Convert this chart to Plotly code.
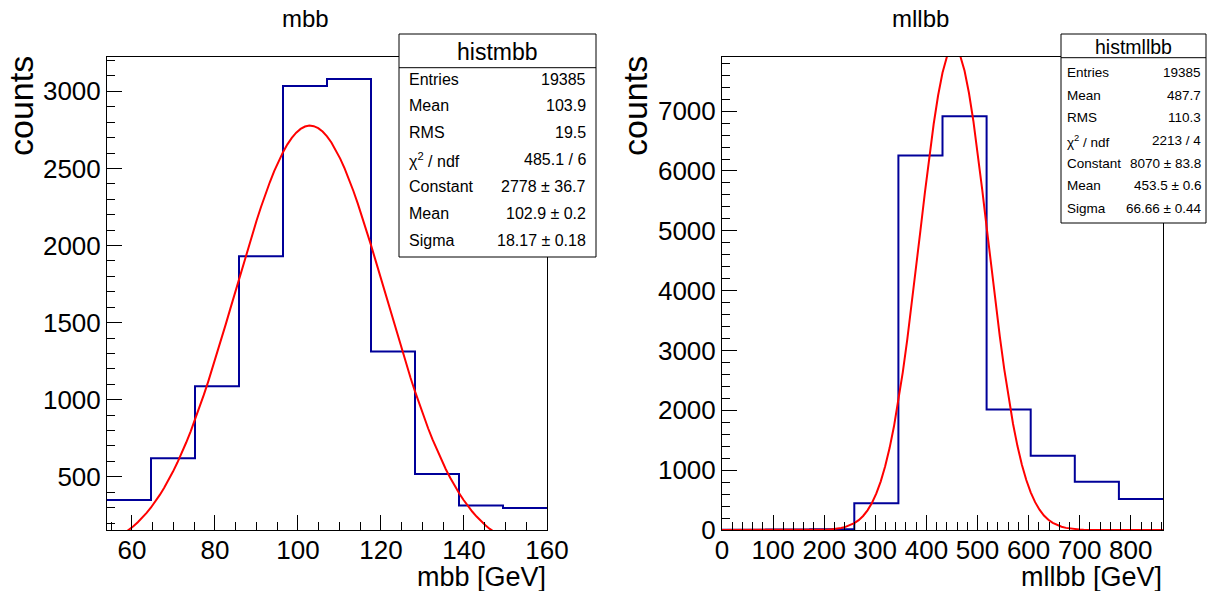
import numpy as np
import plotly.graph_objects as go

W, H = 1215, 591
FONT = "Liberation Sans"

# ---------------- data ----------------
mbb_edges = [54.0, 64.6, 75.2, 85.8, 96.4, 107.0, 117.6, 128.2, 138.8, 149.4, 160.0]
mbb_counts = [350, 620, 1088, 1930, 3035, 3080, 1312, 518, 314, 297]
mbb_fit = dict(constant=2778.0, mean=102.9, sigma=18.17)

mllbb_edges = [0.0, 86.3, 172.6, 258.9, 345.2, 431.5, 517.8, 604.1, 690.4, 776.7, 863.0]
mllbb_counts = [6, 10, 14, 445, 6259, 6916, 2012, 1242, 808, 518]
mllbb_fit = dict(constant=8070.0, mean=453.5, sigma=66.66)

stat_labels = ["Entries", "Mean", "RMS", "χ<sup>2</sup> / ndf", "Constant", "Mean", "Sigma"]
mbb_stat_values = ["19385", "103.9", "19.5", "485.1 / 6", "2778 ± 36.7", "102.9 ± 0.2", "18.17 ± 0.18"]
mllbb_stat_values = ["19385", "487.7", "110.3", "2213 / 4", "8070 ± 83.8", "453.5 ± 0.6", "66.66 ± 0.44"]

# ---------------- helpers ----------------
def px(x):
    return x / W

def py(y):
    return 1 - y / H

def gauss(p, lo, hi, n=100):
    xs = np.linspace(lo, hi, n + 1)
    ys = p["constant"] * np.exp(-0.5 * ((xs - p["mean"]) / p["sigma"]) ** 2)
    return xs, ys

BLUE = "#000099"
RED = "#ff0000"

fig = go.Figure()

fig.add_trace(go.Scatter(x=mbb_edges, y=mbb_counts + [mbb_counts[-1]], mode="lines",
                         line=dict(shape="hv", color=BLUE, width=2), xaxis="x", yaxis="y",
                         showlegend=False))
fx, fy = gauss(mbb_fit, mbb_edges[0], mbb_edges[-1])
fig.add_trace(go.Scatter(x=fx, y=fy, mode="lines", line=dict(color=RED, width=2),
                         xaxis="x", yaxis="y", showlegend=False))

fig.add_trace(go.Scatter(x=mllbb_edges, y=mllbb_counts + [mllbb_counts[-1]], mode="lines",
                         line=dict(shape="hv", color=BLUE, width=2), xaxis="x2", yaxis="y2",
                         showlegend=False))
fx2, fy2 = gauss(mllbb_fit, mllbb_edges[0], mllbb_edges[-1])
fig.add_trace(go.Scatter(x=fx2, y=fy2, mode="lines", line=dict(color=RED, width=2),
                         xaxis="x2", yaxis="y2", showlegend=False))

FRAME_TOP, FRAME_BOT = 57, 530
ydom = [py(FRAME_BOT), py(FRAME_TOP)]

def axis_common(**kw):
    d = dict(showgrid=False, zeroline=False, showline=True, mirror=True,
             linecolor="black", linewidth=1, ticks="inside", ticklen=15, tickwidth=1,
             tickcolor="black", tickangle=0,
             tickfont=dict(family=FONT, size=26, color="black"))
    d.update(kw)
    return d

fig.update_layout(
    autosize=True, margin=dict(l=0, r=0, t=0, b=0, autoexpand=False),
    paper_bgcolor="white", plot_bgcolor="white",
    xaxis=axis_common(domain=[px(107), px(547)], range=[54, 160], dtick=20, tick0=0,
                      ticklabelstandoff=-3,
                      minor=dict(dtick=5, tick0=0, ticks="inside", ticklen=8, tickcolor="black"),
                      anchor="y"),
    yaxis=axis_common(domain=ydom, range=[155, 3223], dtick=500, tick0=0,
                      minor=dict(dtick=100, tick0=0, ticks="inside", ticklen=8, tickcolor="black"),
                      anchor="x"),
    xaxis2=axis_common(domain=[px(722), px(1163)], range=[0, 863], dtick=100, tick0=0,
                       ticklabelstandoff=-3,
                       minor=dict(dtick=20, tick0=0, ticks="inside", ticklen=8, tickcolor="black"),
                       anchor="y2"),
    yaxis2=axis_common(domain=ydom, range=[0, 7905], dtick=1000, tick0=0,
                       minor=dict(dtick=200, tick0=0, ticks="inside", ticklen=8, tickcolor="black"),
                       anchor="x2"),
)

annotations = []
shapes = []

def text(x, y, s, size, xanchor="center", yanchor="middle", angle=0):
    annotations.append(dict(x=px(x), y=py(y), xref="paper", yref="paper", text=s,
                            showarrow=False, xanchor=xanchor, yanchor=yanchor,
                            textangle=angle, borderpad=0,
                            font=dict(family=FONT, size=size, color="black")))

text(306, 19, "mbb", 24)
text(921, 19, "mllbb", 24)

text(21, 55, "counts", 34, xanchor="center", yanchor="top", angle=-90)
text(635, 55, "counts", 34, xanchor="center", yanchor="top", angle=-90)
text(547, 576.5, "mbb [GeV]", 27, xanchor="right", yanchor="middle")
text(1163, 576.5, "mllbb [GeV]", 27, xanchor="right", yanchor="middle")

def stats_box(x0, x1, y0, y1, yhead, title, tsize, rows_y, values, fsize, lx, rx):
    shapes.append(dict(type="rect", xref="paper", yref="paper", x0=px(x0), x1=px(x1),
                       y0=py(y1), y1=py(y0), fillcolor="white",
                       line=dict(color="black", width=1), layer="above"))
    shapes.append(dict(type="line", xref="paper", yref="paper", x0=px(x0), x1=px(x1),
                       y0=py(yhead), y1=py(yhead), line=dict(color="black", width=1),
                       layer="above"))
    text((x0 + x1) / 2, (y0 + yhead) / 2 + 1, title, tsize)
    for yy, lab, val in zip(rows_y, stat_labels, values):
        text(lx, yy, lab, fsize, xanchor="left")
        text(rx, yy, val, fsize, xanchor="right")

stats_box(399, 596, 34, 257, 67.7, "histmbb", 23,
          [79, 106, 133, 159.5, 186, 213, 240], mbb_stat_values, 16, 408, 587)
stats_box(1061, 1206, 34, 223, 57.7, "histmllbb", 19.5,
          [72.5, 95.5, 117.5, 140.5, 163, 185.5, 208], mllbb_stat_values, 13.5, 1066, 1202)

fig.update_layout(annotations=annotations, shapes=shapes)

# The plot div is pinned to the page's top-left corner at exactly the window size,
# so the page never overflows the 1215x591 window.
fig.write_html("out.html", config={"displayModeBar": False, "responsive": False},
               default_width="%dpx;position:absolute;left:0;top:0;margin:0" % W,
               default_height="%dpx" % H)
